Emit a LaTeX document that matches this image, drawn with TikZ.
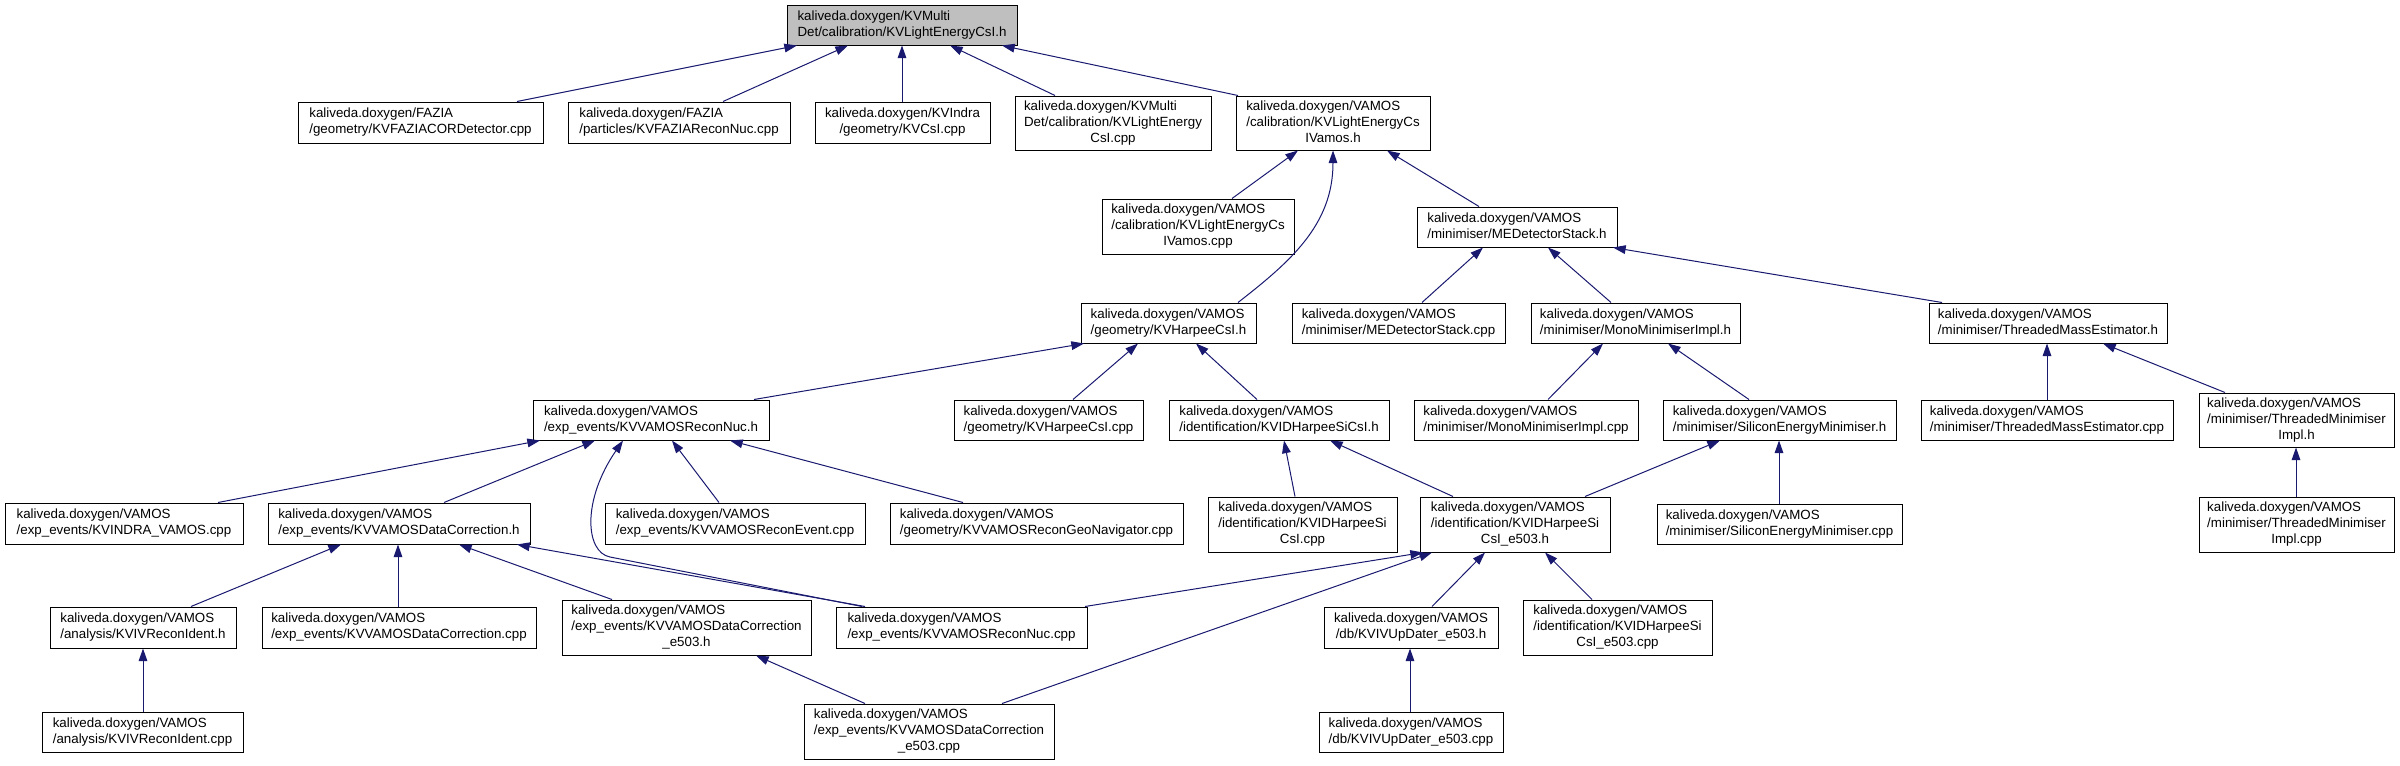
\documentclass[tikz,border=0pt]{standalone}
\usepackage{fontspec}
\setmainfont{Liberation Sans}
\usetikzlibrary{arrows.meta,shadows}
\definecolor{edgeblue}{RGB}{25,25,112}
\definecolor{rootgrey}{RGB}{191,191,191}
\newcommand\nd[7][]{\node[filebox,#1,minimum width={(#5-#3)*0.75pt},minimum height={(#6-#4)*0.75pt}] (#2) at ({(#3+#5)/2},{(#4+#6)/2}) {\begin{tabular}{@{}l@{}}#7\end{tabular}};}
\newcommand\lastl[1]{\multicolumn{1}{@{}c@{}}{#1}}
\newcommand\E[4]{\draw[dep] (#1.north -| #2,0) -- (#3.south -| #4,0);}
\begin{document}
\begin{tikzpicture}[x=0.75pt,y=-0.75pt,
  filebox/.style={draw=black,line width=0.75pt,fill=white,inner sep=0pt,
    font=\fontsize{10}{12}\selectfont,
    general shadow={fill=black!55,shadow xshift=0.9pt,shadow yshift=-0.9pt}},
  dep/.style={draw=edgeblue,line width=0.75pt,-{Triangle[length=9.5pt,width=6.5pt]}}]
\useasboundingbox (0,0) rectangle (2400,765);
% row 1
\nd[fill=rootgrey]{root}{787}{5}{1017}{45}{kaliveda.doxygen/KVMulti\\\lastl{Det/calibration/KVLightEnergyCsI.h}}
% row 2
\nd{FZgeo}{298}{102}{543}{143}{kaliveda.doxygen/FAZIA\\\lastl{/geometry/KVFAZIACORDetector.cpp}}
\nd{FZpart}{568}{102}{790}{143}{kaliveda.doxygen/FAZIA\\\lastl{/particles/KVFAZIAReconNuc.cpp}}
\nd{KVIndra}{815}{102}{990}{143}{kaliveda.doxygen/KVIndra\\\lastl{/geometry/KVCsI.cpp}}
\nd{KVMcpp}{1015}{96}{1211}{150}{kaliveda.doxygen/KVMulti\\Det/calibration/KVLightEnergy\\\lastl{CsI.cpp}}
\nd{Vamosh}{1236}{96}{1430}{150}{kaliveda.doxygen/VAMOS\\/calibration/KVLightEnergyCs\\\lastl{IVamos.h}}
% row 3
\nd{Vamoscpp}{1102}{199}{1294}{254}{kaliveda.doxygen/VAMOS\\/calibration/KVLightEnergyCs\\\lastl{IVamos.cpp}}
\nd{MEDh}{1417}{207}{1617}{247}{kaliveda.doxygen/VAMOS\\\lastl{/minimiser/MEDetectorStack.h}}
% row 4
\nd{HCsIh}{1081}{303}{1256}{343}{kaliveda.doxygen/VAMOS\\\lastl{/geometry/KVHarpeeCsI.h}}
\nd{MEDcpp}{1292}{303}{1505}{343}{kaliveda.doxygen/VAMOS\\\lastl{/minimiser/MEDetectorStack.cpp}}
\nd{Monoh}{1531}{303}{1740}{343}{kaliveda.doxygen/VAMOS\\\lastl{/minimiser/MonoMinimiserImpl.h}}
\nd{TMEh}{1929}{303}{2167}{343}{kaliveda.doxygen/VAMOS\\\lastl{/minimiser/ThreadedMassEstimator.h}}
% row 5
\nd{RNh}{533}{400}{769}{440}{kaliveda.doxygen/VAMOS\\\lastl{/exp\_events/KVVAMOSReconNuc.h}}
\nd{HCsIcpp}{954}{400}{1143}{440}{kaliveda.doxygen/VAMOS\\\lastl{/geometry/KVHarpeeCsI.cpp}}
\nd{IDHSh}{1169}{400}{1389}{440}{kaliveda.doxygen/VAMOS\\\lastl{/identification/KVIDHarpeeSiCsI.h}}
\nd{Monocpp}{1414}{400}{1638}{440}{kaliveda.doxygen/VAMOS\\\lastl{/minimiser/MonoMinimiserImpl.cpp}}
\nd{SiEh}{1663}{400}{1896}{440}{kaliveda.doxygen/VAMOS\\\lastl{/minimiser/SiliconEnergyMinimiser.h}}
\nd{TMEcpp}{1921}{400}{2173}{440}{kaliveda.doxygen/VAMOS\\\lastl{/minimiser/ThreadedMassEstimator.cpp}}
\nd{TMIh}{2199}{393}{2394}{447}{kaliveda.doxygen/VAMOS\\/minimiser/ThreadedMinimiser\\\lastl{Impl.h}}
% row 6
\nd{INDRA}{5}{503}{243}{544}{kaliveda.doxygen/VAMOS\\\lastl{/exp\_events/KVINDRA\_VAMOS.cpp}}
\nd{DCh}{268}{503}{530}{544}{kaliveda.doxygen/VAMOS\\\lastl{/exp\_events/KVVAMOSDataCorrection.h}}
\nd{REcpp}{605}{503}{865}{544}{kaliveda.doxygen/VAMOS\\\lastl{/exp\_events/KVVAMOSReconEvent.cpp}}
\nd{GeoNav}{890}{503}{1183}{544}{kaliveda.doxygen/VAMOS\\\lastl{/geometry/KVVAMOSReconGeoNavigator.cpp}}
\nd{IDHScpp}{1208}{497}{1397}{552}{kaliveda.doxygen/VAMOS\\/identification/KVIDHarpeeSi\\\lastl{CsI.cpp}}
\nd{Eh}{1420}{497}{1610}{552}{kaliveda.doxygen/VAMOS\\/identification/KVIDHarpeeSi\\\lastl{CsI\_e503.h}}
\nd{SiEcpp}{1657}{504}{1902}{544}{kaliveda.doxygen/VAMOS\\\lastl{/minimiser/SiliconEnergyMinimiser.cpp}}
\nd{TMIcpp}{2199}{497}{2394}{552}{kaliveda.doxygen/VAMOS\\/minimiser/ThreadedMinimiser\\\lastl{Impl.cpp}}
% row 7
\nd{RIh}{50}{607}{236}{648}{kaliveda.doxygen/VAMOS\\\lastl{/analysis/KVIVReconIdent.h}}
\nd{DCcpp}{262}{607}{536}{648}{kaliveda.doxygen/VAMOS\\\lastl{/exp\_events/KVVAMOSDataCorrection.cpp}}
\nd{DCEh}{562}{600}{811}{655}{kaliveda.doxygen/VAMOS\\/exp\_events/KVVAMOSDataCorrection\\\lastl{\_e503.h}}
\nd{RNcpp}{836}{607}{1087}{648}{kaliveda.doxygen/VAMOS\\\lastl{/exp\_events/KVVAMOSReconNuc.cpp}}
\nd{UPh}{1324}{607}{1498}{648}{kaliveda.doxygen/VAMOS\\\lastl{/db/KVIVUpDater\_e503.h}}
\nd{IDHSEcpp}{1523}{600}{1712}{655}{kaliveda.doxygen/VAMOS\\/identification/KVIDHarpeeSi\\\lastl{CsI\_e503.cpp}}
% row 8
\nd{RIcpp}{42}{712}{243}{752}{kaliveda.doxygen/VAMOS\\\lastl{/analysis/KVIVReconIdent.cpp}}
\nd{DCEcpp}{804}{704}{1054}{759}{kaliveda.doxygen/VAMOS\\/exp\_events/KVVAMOSDataCorrection\\\lastl{\_e503.cpp}}
\nd{UPcpp}{1319}{712}{1503}{752}{kaliveda.doxygen/VAMOS\\\lastl{/db/KVIVUpDater\_e503.cpp}}
% edges
\E{FZgeo}{517}{root}{797}
\E{FZpart}{723}{root}{848}
\E{KVIndra}{902}{root}{902}
\E{KVMcpp}{1055}{root}{950}
\E{Vamosh}{1238}{root}{1002}
\E{Vamoscpp}{1232}{Vamosh}{1298}
\draw[dep] (HCsIh.north -| 1238,0) .. controls (1290,262) and (1333,225) .. (Vamosh.south -| 1333,0);
\E{MEDh}{1479}{Vamosh}{1387}
\E{MEDcpp}{1422}{MEDh}{1483}
\E{Monoh}{1611}{MEDh}{1548}
\E{TMEh}{1942}{MEDh}{1613}
\E{RNh}{754}{HCsIh}{1084}
\E{HCsIcpp}{1073}{HCsIh}{1138}
\E{IDHSh}{1257}{HCsIh}{1196}
\E{Monocpp}{1548}{Monoh}{1603}
\E{SiEh}{1749}{Monoh}{1668}
\E{TMEcpp}{2047}{TMEh}{2047}
\E{TMIh}{2225}{TMEh}{2103}
\E{INDRA}{218}{RNh}{540}
\E{DCh}{444}{RNh}{595}
\coordinate (bend) at (610,557);
\draw[dep] (RNcpp.north -| 862,0) -- (bend) .. controls (585,552) and (582,500) .. (RNh.south -| 623,0);
\E{REcpp}{719}{RNh}{672}
\E{GeoNav}{963}{RNh}{730}
\E{IDHScpp}{1295}{IDHSh}{1284}
\E{Eh}{1453}{IDHSh}{1330}
\E{Eh}{1585}{SiEh}{1720}
\E{SiEcpp}{1779}{SiEh}{1779}
\E{TMIcpp}{2296}{TMIh}{2296}
\E{RIh}{191}{DCh}{341}
\E{DCcpp}{398}{DCh}{398}
\E{DCEh}{612}{DCh}{459}
\E{RNcpp}{865}{DCh}{517}
\E{RNcpp}{1085}{Eh}{1423}
\E{DCEcpp}{1002}{Eh}{1432}
\E{UPh}{1432}{Eh}{1485}
\E{IDHSEcpp}{1592}{Eh}{1545}
\E{RIcpp}{143}{RIh}{143}
\E{DCEcpp}{865}{DCEh}{756}
\E{UPcpp}{1410}{UPh}{1410}
\end{tikzpicture}
\end{document}
